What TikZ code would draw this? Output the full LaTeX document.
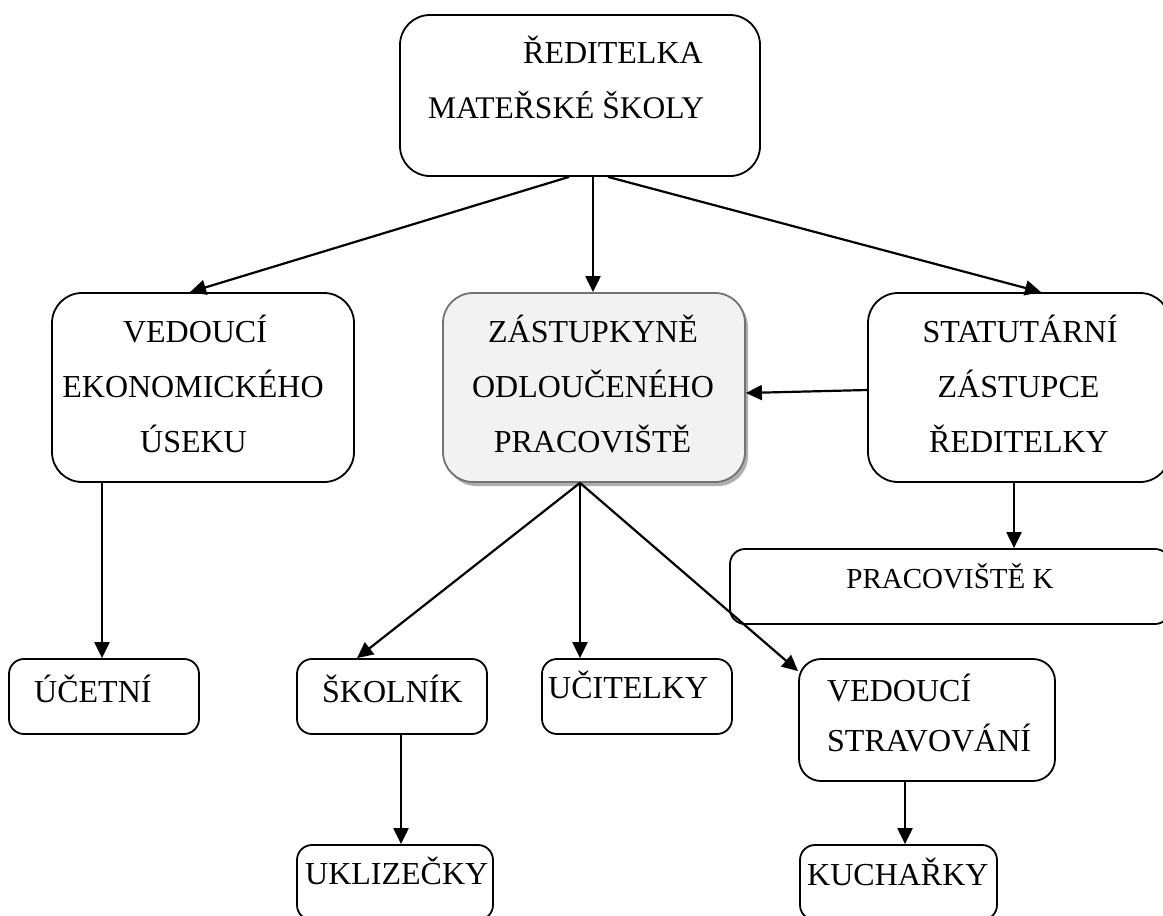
\documentclass[tikz,border=0pt]{standalone}
\usepackage{fontspec}
\setmainfont{Liberation Serif}
\usetikzlibrary{arrows.meta,shadows}
\begin{document}
\begin{tikzpicture}[x=1pt,y=-1pt,
  box/.style={draw=black, line width=1.8pt, rounded corners=#1, inner sep=0pt, fill=white},
  box/.default=15pt,
  txt/.style={font=\fontsize{32}{38}\selectfont, inner sep=0pt, text=black},
  conn/.style={draw=black, line width=2.2pt, -{Triangle[length=16pt,width=15pt]}}]
\clip (0,0) rectangle (1163,916);
\fill[white] (0,0) rectangle (1163,916);
% boxes
\node[box=30pt, minimum width=360pt, minimum height=161pt] (top) at (580,95.5) {};
\node[box=30pt, minimum width=302pt, minimum height=189pt] (vek) at (203,387.5) {};
\node[box=30pt, draw=black!55, fill=black!5, minimum width=302pt, minimum height=189pt,
  drop shadow={shadow xshift=3pt, shadow yshift=-4pt, fill=black!35, opacity=0.9}] (zast) at (594,387.5) {};
\node[box=30pt, minimum width=302pt, minimum height=189pt] (stat) at (1019,387.5) {};
\node[box=15pt, minimum width=440pt, minimum height=75pt] (prac) at (950,586.5) {};
\node[box=15pt, minimum width=190pt, minimum height=75pt] (ucetni) at (104,696.5) {};
\node[box=15pt, minimum width=190pt, minimum height=75pt] (skolnik) at (392,696.5) {};
\node[box=15pt, minimum width=190pt, minimum height=75pt] (ucitelky) at (637,696.5) {};
\node[box=22pt, minimum width=256pt, minimum height=122pt] (vstrav) at (927,720) {};
\node[box=15pt, minimum width=196pt, minimum height=75pt] (uklizecky) at (395,882.5) {};
\node[box=15pt, minimum width=197pt, minimum height=75pt] (kucharky) at (898.5,882.5) {};
% texts
\node[txt, anchor=base west] (t1a) at (523,63) {ŘEDITELKA};
\node[txt, anchor=base west, font=\fontsize{31.5}{36}\selectfont] (t1b) at (428,118) {MATEŘSKÉ ŠKOLY};
\node[txt, anchor=base] (t2a) at (195,342) {VEDOUCÍ};
\node[txt, anchor=base] (t2b) at (193,397) {EKONOMICKÉHO};
\node[txt, anchor=base] (t2c) at (193.5,452) {ÚSEKU};
\node[txt, anchor=base] (t3a) at (593,342) {ZÁSTUPKYNĚ};
\node[txt, anchor=base] (t3b) at (593,397) {ODLOUČENÉHO};
\node[txt, anchor=base] (t3c) at (592.5,452) {PRACOVIŠTĚ};
\node[txt, anchor=base] (t4a) at (1020,342) {STATUTÁRNÍ};
\node[txt, anchor=base] (t4b) at (1018.5,397) {ZÁSTUPCE};
\node[txt, anchor=base] (t4c) at (1019,452) {ŘEDITELKY};
\node[txt, anchor=base, font=\fontsize{29}{34}\selectfont] (t5) at (950,588) {PRACOVIŠTĚ K};
\node[txt, anchor=base west] (t6) at (34,702) {ÚČETNÍ};
\node[txt, anchor=base west] (t7) at (322,702) {ŠKOLNÍK};
\node[txt, anchor=base west] (t8) at (548,698) {UČITELKY};
\node[txt, anchor=base west] (t9a) at (827,701) {VEDOUCÍ};
\node[txt, anchor=base west] (t9b) at (827,751) {STRAVOVÁNÍ};
\node[txt, anchor=base west] (t10) at (305,884) {UKLIZEČKY};
\node[txt, anchor=base west] (t11) at (807,885) {KUCHAŘKY};
% connectors
\draw[conn] ([xshift=-11pt]top.south) -- ([xshift=-13pt]vek.north);
\draw[conn] ([xshift=13pt]top.south) -- ([xshift=-1pt]zast.north);
\draw[conn] ([xshift=28pt]top.south) -- ([xshift=22pt]stat.north);
\draw[conn] ([yshift=-2.5pt]stat.west) -- ([yshift=-5.5pt]zast.east);
\draw[conn] ([xshift=-5pt]stat.south) -- ([xshift=64pt]prac.north);
\draw[conn] ([xshift=-101pt]vek.south) -- ([xshift=-2pt]ucetni.north);
\draw[conn] ([xshift=-14pt]zast.south) -- ([xshift=-35pt]skolnik.north);
\draw[conn] ([xshift=-14pt]zast.south) -- ([xshift=-57pt]ucitelky.north);
\draw[conn] ([xshift=-14pt]zast.south) -- ([yshift=-13pt]vstrav.north west);
\draw[conn] ([xshift=9pt]skolnik.south) -- ([xshift=6pt]uklizecky.north);
\draw[conn] ([xshift=-22pt]vstrav.south) -- ([xshift=6.5pt]kucharky.north);
\end{tikzpicture}
\end{document}
